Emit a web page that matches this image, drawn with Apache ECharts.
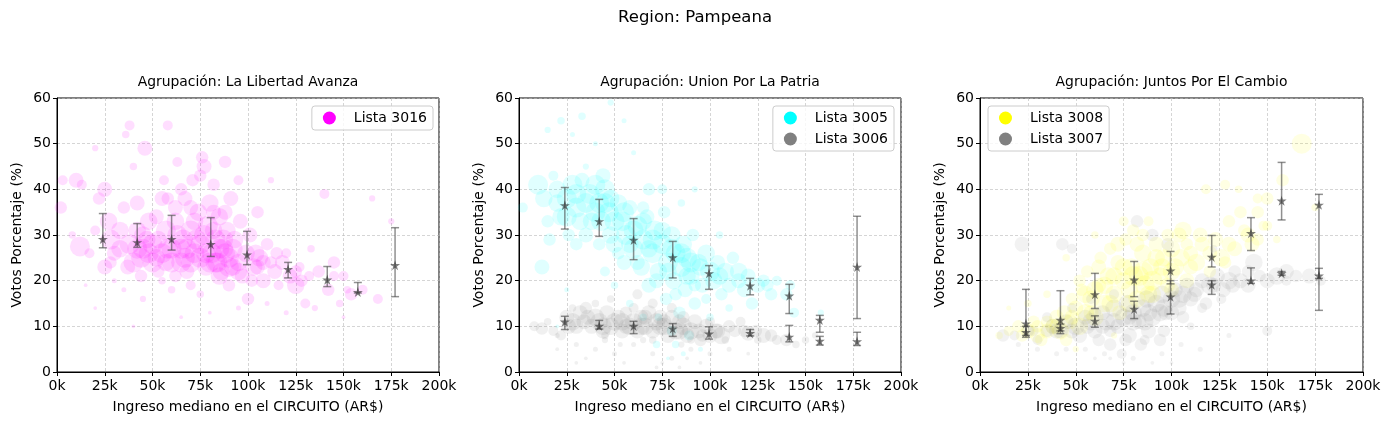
<!DOCTYPE html>
<html>
<head>
<meta charset="utf-8">
<script src="https://cdn.jsdelivr.net/npm/echarts@6/dist/echarts.min.js"></script>
<style>html,body{margin:0;padding:0;background:#fff}#c{width:1390px;height:425px}</style>
</head>
<body>
<div id="c"></div>
<script>
// ---------- DATA ----------
const mainTitle = "Region: Pampeana";
const panelTitles = ["Agrupación: La Libertad Avanza", "Agrupación: Union Por La Patria", "Agrupación: Juntos Por El Cambio"];
const xTickValues = [0, 25, 50, 75, 100, 125, 150, 175, 200];
const yTickValues = [0, 10, 20, 30, 40, 50, 60];

// scatter points: [ingreso (k AR$), votos %, peso relativo del circuito]
const lista3016 = [[2,36,10],[3,42,8],[10,42,12],[13,41,8],[12,27.5,16],[8,30,6],[20,49,5],[22,38,10],[25,40,12],[27,33,14],[28,29,16],[30,26,12],[33,31,14],[35,36,10],[36,52,6],[38,54,8],[40,45,6],[42,37,12],[42,27,16],[44,25,16],[45,30,14],[46,49,12],[48,33,14],[50,28,16],[52,25,14],[53,22,10],[55,38,12],[56,42,8],[57,31,16],[58,54,8],[60,27,16],[62,33,14],[63,46,8],[65,24,16],[66,29,16],[67,38,12],[68,22,12],[70,31,16],[71,42,10],[72,26,16],[74,35,14],[75,28,16],[76,47,10],[77,45,12],[78,23,14],[79,32,16],[80,37,14],[81,26,16],[82,41,10],[83,29,16],[84,24,16],[85,34,14],[86,22,14],[87,27,16],[88,46,10],[89,31,14],[90,25,16],[91,38,12],[92,23,14],[93,29,14],[95,42,8],[96,33,12],[97,21,12],[99,26,14],[100,16,10],[101,30,12],[103,23,14],[105,35,10],[106,25,14],[108,20,12],[110,28,10],[112,42,5],[114,22,12],[116,19,8],[118,24,12],[120,26,8],[122,21,12],[125,19,14],[127,23,8],[130,15,8],[133,27,6],[137,22,10],[140,39,8],[142,18,10],[145,24,10],[148,15,6],[150,21,8],[154,17,10],[160,18,8],[165,38,5],[168,16,8],[175,33,5],[55,20,6],[35,18,4],[15,19,3],[70,19,8],[90,19,10],[60,18,6],[45,16,5],[25,23,12],[30,20,4],[75,17,6],[95,14,4],[120,13,4],[135,14,5],[20,14,3],[40,10,3],[65,12,3],[80,13,3],[110,15,4],[150,12,3],[48,26,16],[58,27,16],[68,27,16],[78,26,16],[88,26,16],[38,28,16],[63,30,16],[73,29,16],[83,24,16],[53,29,14],
  [40,24,16],[45,27,16],[50,24,16],[55,26,16],[60,24,16],[65,27,16],[70,24,16],[75,25,16],[80,24,16],[85,27,16],[90,23,16],[95,24,14],[47,29,14],[57,24,14],[67,25,16],[77,30,16],[87,29,16],[92,27,16],[72,33,14],[62,36,12],[82,35,12],[52,34,12],[42,31,14],[33,27,14],[37,23,12],[28,24,10],[85,21,14],[95,22,14],[104,26,14],[108,24,12],[115,26,10],[102,20,10],[65,40,10],[75,43,10],[58,38,10],[82,31,14],[88,35,12],[70,36,12],[105,23,12],[112,24,10],[125,22,10],[128,20,10],[132,21,8],[145,21,8],[152,18,6],[17,26,8],[20,31,8],[44,21,10],[62,21,10]];
const lista3005 = [[2,36,8],[10,41,16],[13,38,14],[12,23,12],[16,29,10],[20,40,14],[22,34,14],[25,38,16],[28,41,16],[30,36,16],[32,33,14],[35,30,12],[37,39,16],[40,41,16],[42,37,16],[43,33,16],[45,40,16],[47,35,16],[48,30,14],[50,28,14],[52,37,14],[54,33,16],[55,24,12],[56,30,16],[58,36,12],[60,27,16],[62,32,16],[64,23,14],[65,29,16],[67,34,12],[68,19,12],[70,26,16],[71,31,16],[73,22,14],[75,28,16],[76,35,10],[77,16,10],[78,24,16],[80,30,14],[81,20,14],[82,26,16],[84,13,10],[85,23,16],[86,28,14],[87,18,12],[88,25,16],[89,8,8],[90,21,14],[91,30,10],[92,15,10],[94,24,14],[96,19,12],[98,26,14],[100,22,16],[102,20,14],[104,24,12],[106,17,10],[108,22,14],[110,19,12],[112,25,10],[115,22,14],[118,18,12],[120,21,12],[122,15,10],[125,19,12],[128,20,10],[132,17,10],[135,20,8],[140,17,10],[142,19,8],[144,13,8],[158,13,5],[15,53,5],[22,55,6],[28,52,4],[33,56,6],[48,59,5],[55,55,4],[40,50,4],[60,48,4],[35,45,5],[80,9,8],[72,6,6],[95,5,4],[65,12,6],[58,15,6],[45,22,8],[30,28,10],[18,43,8],[100,12,6],[110,14,6],[75,40,8],[68,40,10],[85,37,6],[105,30,6],[92,40,5],[25,18,4],[20,10,3],[50,19,6],[86,4,4],[78,3,3],
  [25,34,16],[30,39,16],[35,37,16],[40,35,16],[45,37,16],[50,33,16],[55,35,16],[60,31,16],[65,33,14],[70,29,16],[75,31,14],[80,27,16],[85,26,16],[90,24,16],[95,23,14],[38,33,14],[48,38,14],[58,28,14],[68,27,14],[78,22,14],[88,21,14],[105,21,14],[115,20,12],[20,37,14],[15,33,10],[62,24,12],[72,20,12],[82,17,10],[92,19,10],[52,26,10],[42,28,10],[130,19,10],[26,30,10],[33,42,12],[44,43,12],[65,36,10],[98,16,8],[73,12,6],[82,6,6]];
const lista3006 = [[8,10,8],[12,9.5,10],[18,9,8],[22,8,8],[25,12,12],[28,11,14],[30,10,12],[32,13,12],[35,14,10],[38,10,12],[40,12,14],[42,11,14],[44,9,12],[46,13,12],[48,10,14],[50,11,14],[52,12,12],[54,9,12],[56,13,10],[58,10,14],[60,11,14],[62,9,12],[64,12,12],[66,10,14],[68,13,12],[70,9,12],[72,11,14],[74,12,12],[76,10,14],[78,8,12],[80,12,12],[82,9,14],[84,11,12],[86,10,14],[88,8,12],[90,9,14],[92,11,12],[95,7,10],[98,10,12],[100,8,12],[103,9,12],[106,8,14],[110,10,10],[113,9,10],[116,11,8],[120,8.5,12],[124,9,10],[128,8,12],[135,7,8],[140,7,10],[145,6,6],[150,7,6],[155,8,5],[30,6,4],[40,5,4],[50,4,4],[60,6,4],[70,4,4],[80,3,4],[90,5,4],[100,4,4],[45,7,5],[65,7,5],[85,6,5],[75,2,3],[55,2,3],[95,2,3],[35,3,3],[20,5,3],[110,5,4],[120,4,3],[62,17,8],[70,15,8],[48,16,6],[28,14,6],
  [26,10,12],[34,11,12],[44,10,14],[54,11,14],[64,10,14],[74,10,14],[84,9,14],[94,9,12],[104,9,12],[36,12,12],[56,10,12],[76,11,12],[96,8,10],[66,12,12],[86,12,10],[118,9,10],[132,8,10],[15,11,6],[45,8,6],[70,7,6],[90,7,6],[108,7,6],[125,7,6],[60,14,8],[80,14,8],[40,15,6],[100,11,8],[20,8,4],[53,6,4],[88,3,3],[72,1,3],[84,1,3],[30,2,3]];
const lista3008 = [[10,8,6],[15,9,8],[20,10,10],[22,8,10],[25,9,12],[28,11,10],[30,8,12],[32,7,10],[35,9,12],[38,10,12],[40,12,12],[42,9,14],[44,13,12],[45,7,10],[47,11,12],[48,16,10],[50,14,12],[52,10,14],[53,18,10],[55,13,14],[56,22,10],[58,16,14],[60,12,14],[62,19,12],[63,25,10],[65,15,14],[67,21,14],[68,27,10],[70,17,14],[72,24,12],[73,13,12],[75,20,14],[76,29,10],[78,18,14],[79,23,14],[80,31,10],[82,16,14],[83,21,16],[85,26,14],[86,19,16],[88,33,8],[89,23,14],[90,17,14],[92,28,12],[94,21,14],[96,25,14],[98,19,12],[100,27,14],[102,23,14],[104,30,12],[106,31,14],[108,20,12],[110,26,12],[113,24,14],[116,28,12],[118,40,8],[120,22,10],[123,29,12],[126,25,14],[128,41,8],[130,33,10],[133,27,12],[136,35,10],[140,30,12],[142,28,12],[145,35,10],[148,32,8],[150,38,10],[158,42,10],[168,50,16],[155,29,6],[175,36,6],[45,25,6],[35,17,6],[25,15,6],[60,30,6],[15,14,4],[50,5,5],[70,8,5],
  [55,17,14],[60,18,14],[65,19,14],[70,21,14],[75,23,14],[80,21,16],[85,22,16],[90,20,16],[95,23,14],[100,22,14],[105,25,14],[110,23,12],[68,15,14],[78,15,14],[88,17,14],[58,13,12],[48,12,12],[40,10,12],[35,11,10],[30,10,10],[72,28,12],[82,28,12],[92,25,14],[62,23,12],[52,20,10],[115,30,12],[120,26,12],[130,28,12],[138,31,10],[145,29,10],[100,18,12],[98,30,10],[108,28,10],[75,33,8],[85,30,10],[128,24,10],[145,38,8],[135,40,6],[150,32,8]];
const lista3007 = [[12,8,10],[18,8,8],[22,28,12],[25,9,10],[30,7,8],[35,9,10],[38,10,12],[42,9,12],[43,28,10],[45,11,12],[48,27,8],[50,10,14],[52,8,12],[55,12,12],[58,11,14],[60,9,12],[62,7,10],[64,13,12],[66,11,14],[68,6,10],[70,14,14],[72,10,12],[74,4,8],[75,12,14],[77,15,14],[78,8,12],[80,13,14],[82,33,10],[83,11,12],[84,6,10],[85,14,14],[87,16,14],[88,9,12],[90,30,10],[90,12,14],[92,15,14],[94,7,10],[95,17,14],[97,13,12],[98,28,10],[100,16,14],[102,18,12],[104,14,12],[106,17,14],[108,19,12],[110,16,12],[113,18,12],[116,20,12],[118,15,10],[120,19,14],[122,27,6],[124,21,12],[127,18,12],[130,20,14],[133,22,10],[136,20,12],[140,19,12],[143,24,14],[146,21,10],[150,9,8],[155,21,14],[160,22,12],[165,21,10],[172,21,12],[178,20,8],[40,4,4],[55,5,4],[65,4,4],[80,3,4],[95,4,4],[105,6,4],[115,5,4],[130,8,4],[30,5,4],[20,6,4],[60,3,3],[100,2,3],[110,10,6],
  [40,9,12],[48,9,12],[56,10,12],[64,10,12],[70,11,14],[80,11,14],[88,13,14],[96,14,14],[104,16,14],[112,17,12],[122,19,12],[132,19,12],[78,12,12],[86,11,14],[94,13,14],[100,13,12],[60,13,10],[68,9,10],[76,7,10],[86,7,8],[96,9,10],[106,12,10],[116,14,8],[126,16,8],[70,17,8],[58,16,8],[48,14,8],[35,12,8],[28,9,8],[150,20,12],[140,22,10],[160,20,8],[45,5,4],[75,2,3],[90,2,3],[68,3,3]];

// binned means with error ranges
const binX = [24, 42, 60, 80.5, 99.5, 121, 141.5, 157.5, 177];
const mean3016 = [29.1, 28.4, 29.1, 28.0, 25.7, 22.5, 20.2, 17.5, 23.4];
const low3016  = [27.2, 27.3, 26.7, 25.3, 23.5, 20.6, 18.7, 17.3, 16.5];
const high3016 = [34.7, 32.5, 34.3, 33.8, 30.8, 24.0, 23.1, 19.6, 31.6];
const mean3005 = [36.5, 33.0, 28.9, 25.1, 21.6, 18.9, 16.7, 11.4, 23.0];
const low3005  = [31.3, 29.7, 24.6, 20.6, 18.1, 16.9, 12.8, 8.7, 11.7];
const high3005 = [40.4, 37.8, 33.6, 28.6, 23.3, 20.5, 19.2, 12.4, 34.1];
const mean3006 = [11.0, 10.1, 10.1, 9.5, 8.4, 8.5, 7.7, 6.8, 6.7];
const low3006  = [9.3, 9.4, 8.4, 7.8, 7.2, 7.9, 6.6, 5.9, 5.8];
const high3006 = [12.2, 11.3, 11.1, 10.6, 9.9, 9.3, 10.2, 7.8, 8.7];
const mean3008 = [10.6, 11.4, 17.0, 20.2, 22.2, 25.2, 30.4, 37.5, 36.6];
const low3008  = [8.0, 9.0, 13.9, 16.5, 19.3, 23.0, 26.6, 33.3, 13.5];
const high3008 = [18.1, 17.8, 21.6, 24.2, 26.4, 29.9, 33.8, 45.9, 38.9];
const mean3007 = [8.7, 9.6, 11.2, 13.8, 16.5, 19.1, 20.0, 21.6, 21.1];
const low3007  = [7.6, 8.4, 9.8, 11.7, 12.7, 17.0, 19.4, 21.2, 20.5];
const high3007 = [10.0, 10.5, 12.3, 15.5, 20.0, 20.0, 22.8, 22.0, 22.7];

// ---------- CHART ----------
const FONT = "DejaVu Sans";
const chart = echarts.init(document.getElementById('c'), null, {renderer: 'canvas'});
const grids = [
  {left: 57, top: 98, width: 382, height: 274},
  {left: 519, top: 98, width: 382, height: 274},
  {left: 980, top: 98, width: 383, height: 274}
];
const STAR = 'path://M50,0 L61,35 L98,35 L68,57 L79,91 L50,70 L21,91 L32,57 L2,35 L39,35 Z';
const SIZE_SCALE = 1.25;

function xAxis(i) {
  return {
    gridIndex: i, type: 'value', min: 0, max: 200, interval: 25,
    name: 'Ingreso mediano en el CIRCUITO (AR$)', nameLocation: 'middle', nameGap: 28,
    nameTextStyle: {fontFamily: FONT, fontSize: 14, color: '#000'},
    axisLine: {show: true, onZero: false, lineStyle: {color: '#000', width: 1}},
    axisTick: {show: true, length: 4, lineStyle: {color: '#000'}},
    axisLabel: {fontFamily: FONT, fontSize: 14, color: '#000', margin: 7, formatter: v => v + 'k'},
    splitLine: {show: true, lineStyle: {color: '#b8b8b8', width: 0.6, type: [3, 2]}}
  };
}
function yAxis(i) {
  return {
    gridIndex: i, type: 'value', min: 0, max: 60, interval: 10,
    name: 'Votos Porcentaje (%)', nameLocation: 'middle', nameGap: 33,
    nameTextStyle: {fontFamily: FONT, fontSize: 14, color: '#000'},
    axisLine: {show: true, lineStyle: {color: '#000', width: 1}},
    axisTick: {show: true, length: 4, lineStyle: {color: '#000'}},
    axisLabel: {fontFamily: FONT, fontSize: 14, color: '#000', margin: 6},
    splitLine: {show: true, lineStyle: {color: '#b8b8b8', width: 0.6, type: [3, 2]}}
  };
}
function cloud(name, data, color, opacity, i) {
  return {
    name: name, type: 'scatter', xAxisIndex: i, yAxisIndex: i, data: data,
    symbol: 'circle', symbolSize: v => v[2] * SIZE_SCALE,
    itemStyle: {color: color, opacity: opacity},
    emphasis: {disabled: true}, silent: true, z: 2
  };
}
function errBars(xs, lo, hi, i) {
  return {
    type: 'custom', xAxisIndex: i, yAxisIndex: i, silent: true, z: 5,
    data: xs.map((x, k) => [x, lo[k], hi[k]]),
    renderItem: function (params, api) {
      const a = api.coord([api.value(0), api.value(1)]);
      const b = api.coord([api.value(0), api.value(2)]);
      const st = {stroke: 'rgba(70,70,70,0.6)', lineWidth: 1.5};
      const cw = 4;
      return {type: 'group', children: [
        {type: 'line', shape: {x1: a[0], y1: a[1], x2: b[0], y2: b[1]}, style: st},
        {type: 'line', shape: {x1: a[0] - cw, y1: a[1], x2: a[0] + cw, y2: a[1]}, style: st},
        {type: 'line', shape: {x1: b[0] - cw, y1: b[1], x2: b[0] + cw, y2: b[1]}, style: st}
      ]};
    }
  };
}
function stars(xs, m, i) {
  return {
    type: 'scatter', xAxisIndex: i, yAxisIndex: i, silent: true, z: 6,
    data: xs.map((x, k) => [x, m[k]]), symbol: STAR, symbolSize: 10,
    itemStyle: {color: 'rgba(40,40,40,0.75)'}
  };
}
function legend(items, pos) {
  return Object.assign({
    orient: 'vertical', itemWidth: 13, itemHeight: 13, itemGap: 7,
    padding: [5, 6, 5, 11], icon: 'circle',
    backgroundColor: 'rgba(255,255,255,0.8)', borderColor: '#cccccc', borderWidth: 1, borderRadius: 3,
    textStyle: {fontFamily: FONT, fontSize: 14, color: '#000', padding: [0, 0, 0, 13]},
    selectedMode: false,
    data: items.map(it => ({name: it[0], icon: 'circle', itemStyle: {color: it[1], opacity: 1}}))
  }, pos);
}

const MAG = '#ff00ff', CYA = '#00ffff', GRY = '#808080', YEL = '#ffff00';
const subStyle = {fontFamily: FONT, fontSize: 13.9, fontWeight: 'normal', color: '#000'};

const option = {
  backgroundColor: '#fff',
  animation: false,
  title: [
    {text: mainTitle, left: 690, top: 4, textAlign: 'center', textStyle: {fontFamily: FONT, fontSize: 16.5, fontWeight: 'normal', color: '#000'}},
    {text: panelTitles[0], left: 243, top: 70, textAlign: 'center', textStyle: subStyle},
    {text: panelTitles[1], left: 705, top: 70, textAlign: 'center', textStyle: subStyle},
    {text: panelTitles[2], left: 1166.5, top: 70, textAlign: 'center', textStyle: subStyle}
  ],
  grid: grids.map(g => Object.assign({show: true, borderColor: '#000', borderWidth: 1, backgroundColor: 'transparent', containLabel: false}, g)),
  xAxis: [xAxis(0), xAxis(1), xAxis(2)],
  yAxis: [yAxis(0), yAxis(1), yAxis(2)],
  legend: [
    legend([['Lista 3016', MAG]], {right: 957, top: 106}),
    legend([['Lista 3005', CYA], ['Lista 3006', GRY]], {right: 496, top: 106}),
    legend([['Lista 3008', YEL], ['Lista 3007', GRY]], {left: 988, top: 106})
  ],
  series: [
    cloud('Lista 3016', lista3016, MAG, 0.13, 0),
    errBars(binX, low3016, high3016, 0),
    stars(binX, mean3016, 0),

    cloud('Lista 3005', lista3005, CYA, 0.12, 1),
    cloud('Lista 3006', lista3006, GRY, 0.12, 1),
    errBars(binX, low3005, high3005, 1),
    errBars(binX, low3006, high3006, 1),
    stars(binX, mean3005, 1),
    stars(binX, mean3006, 1),

    cloud('Lista 3008', lista3008, YEL, 0.11, 2),
    cloud('Lista 3007', lista3007, GRY, 0.10, 2),
    errBars(binX, low3008, high3008, 2),
    errBars(binX, low3007, high3007, 2),
    stars(binX, mean3008, 2),
    stars(binX, mean3007, 2)
  ]
};
chart.setOption(option);
</script>
</body>
</html>
